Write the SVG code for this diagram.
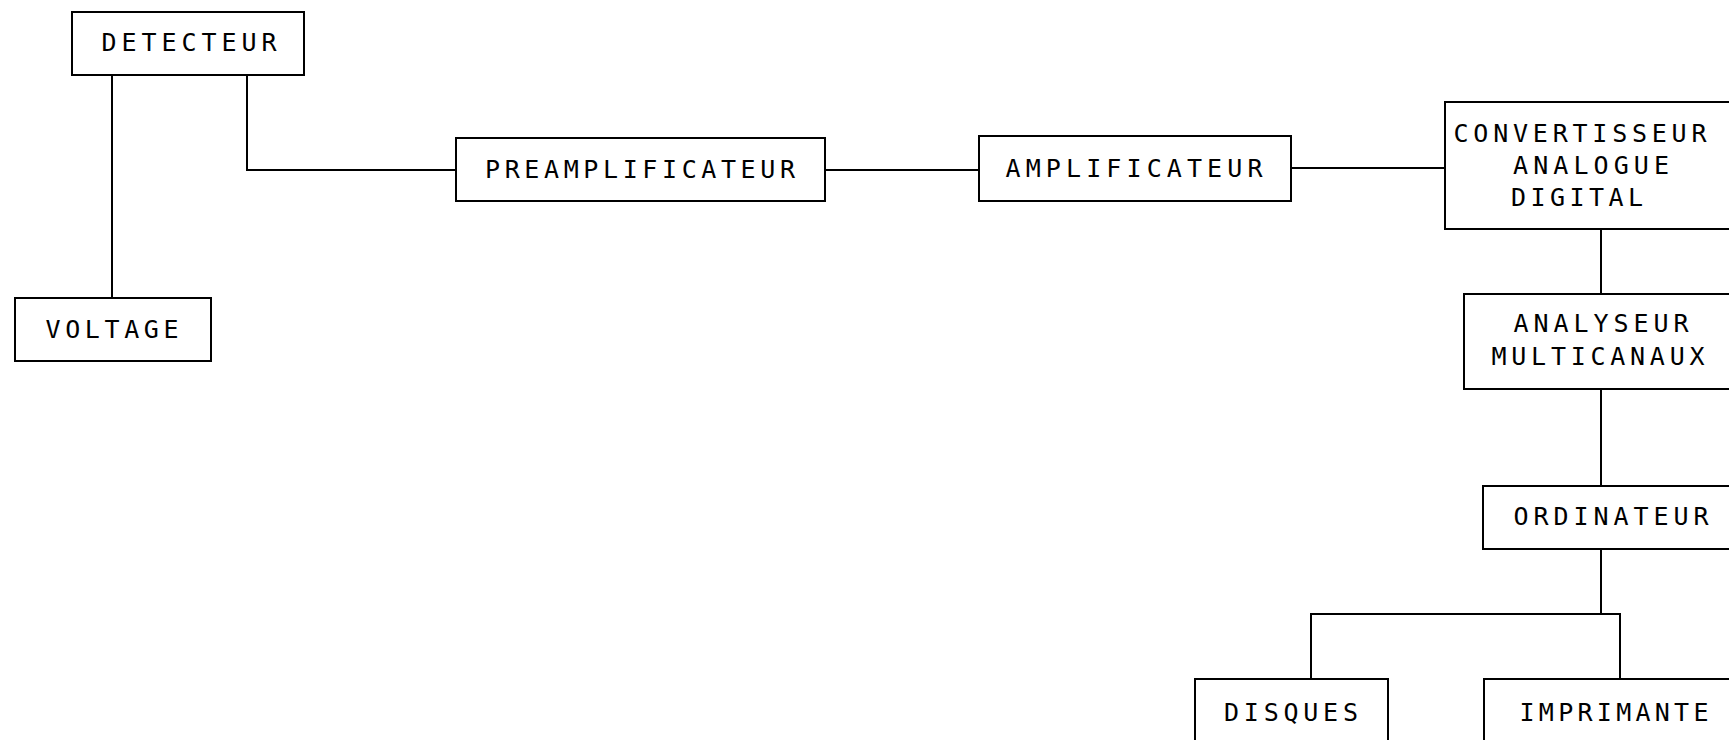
<svg xmlns="http://www.w3.org/2000/svg" width="1729" height="740" viewBox="0 0 1729 740">
<style>
.box{fill:none;stroke:#000;stroke-width:2}
.ln{fill:none;stroke:#000;stroke-width:2}
text{font-family:"DejaVu Sans Mono","Liberation Mono",monospace;font-size:25px;fill:#000;text-anchor:middle}
</style>
<rect width="1729" height="740" fill="#fff"/>
<g id="connectors">
<path class="ln" d="M112 75 V298"/>
<path class="ln" d="M247 75 V170 H456"/>
<path class="ln" d="M825 170 H979"/>
<path class="ln" d="M1291 168 H1445"/>
<path class="ln" d="M1601 229 V294"/>
<path class="ln" d="M1601 389 V486"/>
<path class="ln" d="M1601 549 V614"/>
<path class="ln" d="M1311 679 V614 H1620 V679"/>
</g>
<g id="detecteur"><rect class="box" x="72" y="12" width="232" height="63"/><text x="189" y="51" textLength="175" lengthAdjust="spacing">DETECTEUR</text></g>
<g id="voltage"><rect class="box" x="15" y="298" width="196" height="63"/><text x="112" y="338" textLength="133" lengthAdjust="spacing">VOLTAGE</text></g>
<g id="preamplificateur"><rect class="box" x="456" y="138" width="369" height="63"/><text x="640" y="178" textLength="310" lengthAdjust="spacing">PREAMPLIFICATEUR</text></g>
<g id="amplificateur"><rect class="box" x="979" y="136" width="312" height="65"/><text x="1134" y="177" textLength="257" lengthAdjust="spacing">AMPLIFICATEUR</text></g>
<g id="convertisseur"><rect class="box" x="1445" y="102" width="300" height="127"/><text x="1580" y="142" textLength="253" lengthAdjust="spacing">CONVERTISSEUR</text><text x="1591" y="174" textLength="156" lengthAdjust="spacing">ANALOGUE</text><text x="1577" y="206" textLength="132" lengthAdjust="spacing">DIGITAL</text></g>
<g id="analyseur"><rect class="box" x="1464" y="294" width="300" height="95"/><text x="1601" y="332" textLength="175" lengthAdjust="spacing">ANALYSEUR</text><text x="1598" y="365" textLength="213" lengthAdjust="spacing">MULTICANAUX</text></g>
<g id="ordinateur"><rect class="box" x="1483" y="486" width="300" height="63"/><text x="1611" y="525" textLength="195" lengthAdjust="spacing">ORDINATEUR</text></g>
<g id="disques"><rect class="box" x="1195" y="679" width="193" height="100"/><text x="1291" y="721" textLength="134" lengthAdjust="spacing">DISQUES</text></g>
<g id="imprimante"><rect class="box" x="1484" y="679" width="300" height="100"/><text x="1614" y="721" textLength="189" lengthAdjust="spacing">IMPRIMANTE</text></g>
</svg>
